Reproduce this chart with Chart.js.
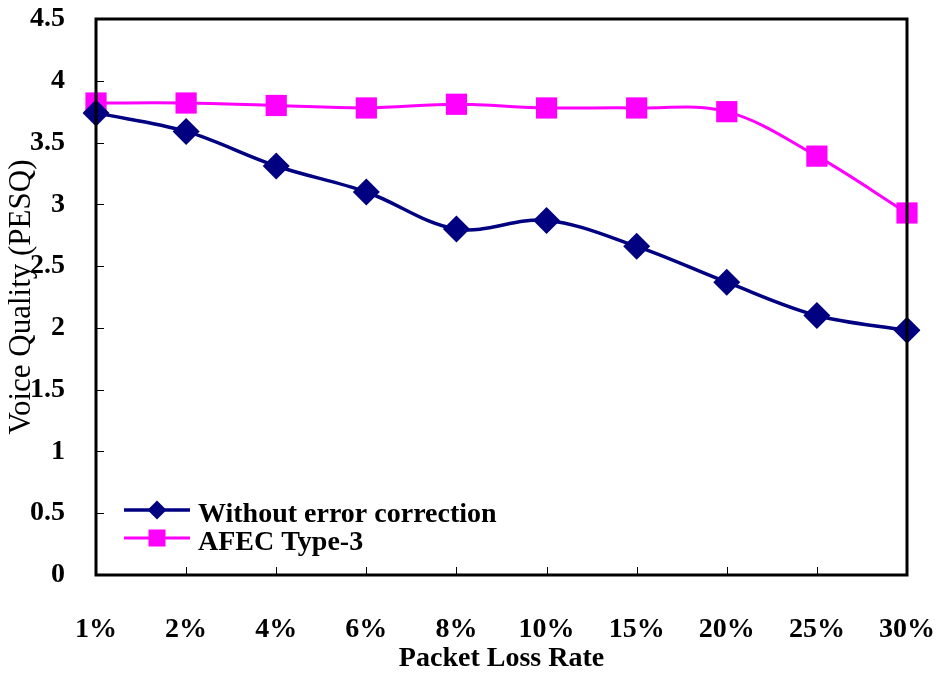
<!DOCTYPE html>
<html>
<head>
<meta charset="utf-8">
<title>Voice Quality vs Packet Loss Rate</title>
<script src="https://cdn.jsdelivr.net/npm/chart.js@4/dist/chart.umd.min.js"></script>
<style>
  html, body { margin: 0; padding: 0; background: #ffffff; }
  #wrap { width: 940px; height: 679px; position: relative; }
</style>
</head>
<body>
<div id="wrap"><canvas id="chart" width="940" height="679"></canvas></div>
<script>
// Packet loss rates tested
const lossRates = ['1%', '2%', '4%', '6%', '8%', '10%', '15%', '20%', '25%', '30%'];

// PESQ scores per loss rate
const withoutCorrection = [3.74, 3.59, 3.31, 3.10, 2.80, 2.87, 2.66, 2.37, 2.10, 1.98];
const afecType3 = [3.82, 3.82, 3.80, 3.78, 3.81, 3.78, 3.78, 3.75, 3.39, 2.93];

// Y axis tick values
const yTicks = [0, 0.5, 1, 1.5, 2, 2.5, 3, 3.5, 4, 4.5];

const seriesNames = ['Without error correction', 'AFEC Type-3'];

const SERIF = '"Liberation Serif", "Times New Roman", serif';

// Frame around the plot plus short inward tick marks
const framePlugin = {
  id: 'frame',
  afterDatasetsDraw(chart) {
    const { ctx, chartArea: a, scales } = chart;
    ctx.save();
    ctx.strokeStyle = '#000';
    ctx.lineWidth = 1;
    ctx.beginPath();
    scales.x.ticks.forEach((t, i) => {
      const px = Math.round(scales.x.getPixelForTick(i)) + 0.5;
      ctx.moveTo(px, a.bottom);
      ctx.lineTo(px, a.bottom - 8);
    });
    scales.y.ticks.forEach((t, i) => {
      const py = Math.round(scales.y.getPixelForTick(i)) + 0.5;
      ctx.moveTo(a.left, py);
      ctx.lineTo(a.left + 8, py);
    });
    ctx.stroke();
    ctx.lineWidth = 3;
    ctx.strokeRect(a.left, a.top, a.right - a.left, a.bottom - a.top);
    ctx.restore();
  }
};

// Legend drawn inside the plot, lower left
const insideLegend = {
  id: 'insideLegend',
  afterDraw(chart) {
    const { ctx, chartArea: a } = chart;
    const x0 = a.left + 28, x1 = a.left + 94;
    const rows = [a.bottom - 65, a.bottom - 37];
    ctx.save();
    chart.data.datasets.forEach((ds, i) => {
      const y = rows[i];
      const cx = (x0 + x1) / 2;
      ctx.strokeStyle = ds.borderColor;
      ctx.lineWidth = ds.borderWidth;
      ctx.beginPath();
      ctx.moveTo(x0, y);
      ctx.lineTo(x1, y);
      ctx.stroke();
      ctx.fillStyle = ds.backgroundColor;
      ctx.beginPath();
      if (ds.pointStyle === 'rectRot') {
        const r = 9.5;
        ctx.moveTo(cx, y - r);
        ctx.lineTo(cx + r, y);
        ctx.lineTo(cx, y + r);
        ctx.lineTo(cx - r, y);
        ctx.closePath();
      } else {
        const s = 8.5;
        ctx.rect(cx - s, y - s, 2 * s, 2 * s);
      }
      ctx.fill();
      ctx.fillStyle = '#000';
      ctx.font = 'bold 28px ' + SERIF;
      ctx.textBaseline = 'middle';
      ctx.textAlign = 'left';
      ctx.fillText(ds.label, x1 + 8, y + 5);
    });
    ctx.restore();
  }
};

new Chart(document.getElementById('chart'), {
  type: 'line',
  data: {
    labels: lossRates,
    datasets: [
      {
        label: seriesNames[0],
        data: withoutCorrection,
        borderColor: '#000080',
        backgroundColor: '#000080',
        borderWidth: 3.5,
        pointStyle: 'rectRot',
        pointRadius: 13.5,
        pointHoverRadius: 13.5,
        pointBorderWidth: 0,
        tension: 0.35
      },
      {
        label: seriesNames[1],
        data: afecType3,
        borderColor: '#ff00ff',
        backgroundColor: '#ff00ff',
        borderWidth: 3,
        pointStyle: 'rect',
        pointRadius: 15,
        pointHoverRadius: 15,
        pointBorderWidth: 0,
        tension: 0.35
      }
    ]
  },
  options: {
    responsive: false,
    animation: false,
    events: [],
    layout: { padding: { top: 19, right: 33, left: 0, bottom: 0 } },
    plugins: {
      legend: { display: false },
      tooltip: { enabled: false }
    },
    scales: {
      x: {
        offset: false,
        grid: { display: false },
        border: { display: false },
        ticks: {
          color: '#000',
          font: { family: SERIF, size: 28, weight: 'bold' },
          padding: 30,
          maxRotation: 0,
          autoSkip: false
        },
        title: {
          display: true,
          text: 'Packet Loss Rate',
          color: '#000',
          font: { family: SERIF, size: 28, weight: 'bold' },
          padding: { top: 0, bottom: 3 }
        },
        afterFit(scale) {
          scale.height = 104;
          scale.paddingLeft = 0;
          scale.paddingRight = 0;
        }
      },
      y: {
        min: 0,
        max: 4.5,
        grid: { display: false },
        border: { display: false },
        afterBuildTicks(scale) { scale.ticks = yTicks.map(v => ({ value: v })); },
        ticks: {
          color: '#000',
          font: { family: SERIF, size: 28, weight: 'bold' },
          padding: 23,
          callback: (v) => String(v)
        },
        title: {
          display: true,
          text: 'Voice Quality (PESQ)',
          color: '#000',
          font: { family: SERIF, size: 31, weight: 'normal' },
          padding: { top: 3, bottom: 0 }
        },
        afterFit(scale) {
          scale.width = 96;
          scale.paddingTop = 0;
          scale.paddingBottom = 0;
        }
      }
    }
  },
  plugins: [framePlugin, insideLegend]
});
</script>
</body>
</html>
